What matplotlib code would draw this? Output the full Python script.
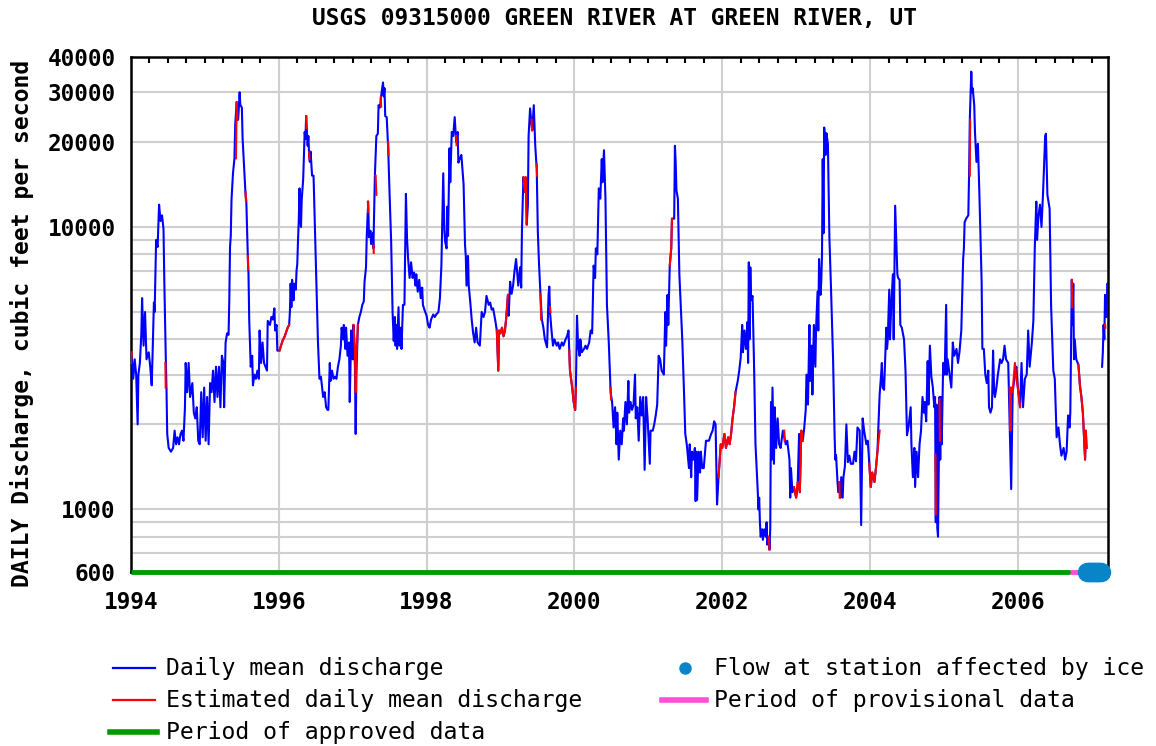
import numpy as np
import matplotlib
matplotlib.use("Agg")
import matplotlib.pyplot as plt
from matplotlib.lines import Line2D
from matplotlib.ticker import FixedLocator, NullFormatter, MultipleLocator

title = "USGS 09315000 GREEN RIVER AT GREEN RIVER, UT"
y_label = "DAILY Discharge, cubic feet per second"

# daily mean discharge (decimal year, cfs)
d1994 = [1994.00, 1994.01, 1994.03, 1994.05, 1994.07, 1994.09, 1994.10, 1994.12, 1994.14, 1994.15,
         1994.17, 1994.19, 1994.21, 1994.24, 1994.26, 1994.28, 1994.29, 1994.31, 1994.32, 1994.34,
         1994.36, 1994.38, 1994.40, 1994.42, 1994.44, 1994.45, 1994.47, 1994.48, 1994.49, 1994.51,
         1994.54, 1994.57, 1994.59, 1994.61, 1994.63, 1994.65, 1994.67, 1994.69, 1994.71, 1994.73,
         1994.74, 1994.76, 1994.78, 1994.80, 1994.83, 1994.85, 1994.87, 1994.89, 1994.91, 1994.93,
         1994.95, 1994.97, 1994.99]
q1994 = [3300, 3500, 2900, 3400, 3000, 2000, 3000, 3300, 4200, 5600,
         3800, 5000, 3400, 3600, 3200, 2750, 3400, 5400, 5000, 9000,
         8500, 12000, 10500, 11000, 9800, 6600, 3500, 2700, 1850, 1650,
         1600, 1650, 1900, 1700, 1800, 1700, 1850, 1900, 1750, 2300,
         3300, 2600, 3300, 2500, 2800, 2200, 2100, 2300, 1750, 1700,
         2600, 1800, 2700]

d1995 = [1995.01, 1995.03, 1995.05, 1995.07, 1995.09, 1995.11, 1995.13, 1995.15, 1995.17, 1995.19,
         1995.21, 1995.23, 1995.25, 1995.26, 1995.28, 1995.30, 1995.32, 1995.33, 1995.34, 1995.35,
         1995.36, 1995.38, 1995.40, 1995.41, 1995.43, 1995.45, 1995.47, 1995.48, 1995.50, 1995.51,
         1995.53, 1995.55, 1995.56, 1995.58, 1995.59, 1995.60, 1995.61, 1995.62, 1995.64, 1995.65,
         1995.67, 1995.69, 1995.71, 1995.73, 1995.74, 1995.76, 1995.78, 1995.80, 1995.82, 1995.84,
         1995.85, 1995.88, 1995.90, 1995.92, 1995.94, 1995.95, 1995.97, 1995.98]
q1995 = [1750, 2500, 1700, 2800, 2600, 3100, 2400, 3200, 2500, 3200,
         2300, 3500, 3300, 2300, 3900, 4200, 4150, 5500, 8500, 9300,
         12500, 15500, 17500, 23000, 27700, 24000, 30000, 27000, 26500, 20600,
         16300, 13000, 12400, 8000, 6800, 4650, 3900, 3200, 3500, 2750,
         3000, 2900, 3100, 2900, 4300, 3300, 3900, 3300, 3200, 3100,
         4650, 4500, 4800, 4700, 5150, 4300, 4500, 3650]

d1996 = [1996.01, 1996.03, 1996.05, 1996.08, 1996.10, 1996.12, 1996.14, 1996.15, 1996.16, 1996.17,
         1996.18, 1996.20, 1996.21, 1996.23, 1996.24, 1996.25, 1996.26, 1996.27, 1996.28, 1996.29,
         1996.30, 1996.31, 1996.33, 1996.34, 1996.35, 1996.36, 1996.37, 1996.38, 1996.39, 1996.40,
         1996.41, 1996.42, 1996.43, 1996.45, 1996.47, 1996.48, 1996.51, 1996.53, 1996.55, 1996.57,
         1996.60, 1996.62, 1996.64, 1996.66, 1996.67, 1996.69, 1996.70, 1996.72, 1996.74, 1996.76,
         1996.78, 1996.80, 1996.82, 1996.84, 1996.85, 1996.87, 1996.88, 1996.90, 1996.91, 1996.93,
         1996.95, 1996.96, 1996.98]
q1996 = [3650, 3800, 3950, 4100, 4250, 4400, 4500, 5000, 6300, 5200,
         6500, 5500, 6300, 6000, 7000, 7400, 9000, 10500, 13700, 11000,
         10000, 12500, 14800, 18000, 21700, 20500, 24700, 22000, 19400, 21000,
         18000, 17000, 18500, 15200, 15200, 12100, 6200, 3900, 2900, 2950,
         2500, 2600, 2300, 2250, 2250, 3300, 2850, 3100, 2900, 2950,
         2900, 3200, 3400, 3800, 4400, 4000, 4500, 3700, 4400, 3500,
         3900, 2400, 4300]

d1997 = [1997.00, 1997.01, 1997.03, 1997.04, 1997.05, 1997.07, 1997.09, 1997.11, 1997.13, 1997.15,
         1997.16, 1997.18, 1997.19, 1997.21, 1997.22, 1997.24, 1997.25, 1997.27, 1997.28, 1997.30,
         1997.32, 1997.34, 1997.35, 1997.37, 1997.38, 1997.41, 1997.42, 1997.43, 1997.44, 1997.46,
         1997.48, 1997.50, 1997.52, 1997.54, 1997.555, 1997.57, 1997.58, 1997.59, 1997.60, 1997.62,
         1997.63, 1997.65, 1997.66, 1997.68, 1997.70, 1997.72, 1997.735, 1997.75, 1997.77, 1997.79,
         1997.81, 1997.83, 1997.85, 1997.86, 1997.88, 1997.90, 1997.92, 1997.94, 1997.95, 1997.97]
q1997 = [3400, 4500, 3200, 1850, 3000, 4500, 4800, 5000, 5300, 5450,
         6400, 7200, 9300, 12300, 9200, 9700, 8700, 9500, 8400, 15200,
         21000, 21400, 27000, 26500, 28500, 32500, 29000, 31000, 24700, 24500,
         19000, 12800, 8900, 4950, 3950, 4800, 3800, 4500, 3700, 5200,
         3800, 4400, 3700, 5300, 5300, 13100, 9100, 7700, 6600, 7500,
         6600, 6900, 6200, 6800, 5900, 6500, 5600, 6100, 5300, 5100]

d1998 = [1998.00, 1998.02, 1998.04, 1998.06, 1998.09, 1998.11, 1998.13, 1998.16, 1998.18, 1998.20,
         1998.225, 1998.24, 1998.25, 1998.27, 1998.28, 1998.29, 1998.31, 1998.32, 1998.34, 1998.36,
         1998.38, 1998.40, 1998.42, 1998.43, 1998.45, 1998.47, 1998.50, 1998.52, 1998.53, 1998.54,
         1998.56, 1998.57, 1998.59, 1998.61, 1998.63, 1998.65, 1998.67, 1998.69, 1998.72, 1998.745,
         1998.77, 1998.79, 1998.81, 1998.84, 1998.86, 1998.88, 1998.90, 1998.93, 1998.95, 1998.97,
         1998.98]
q1998 = [4850, 4500, 4400, 4700, 4900, 4800, 4900, 5000, 5600, 7300,
         15500, 9800, 8900, 8400, 11800, 9300, 19000, 14400, 21700, 21000,
         24500, 20000, 21700, 16900, 17500, 18000, 14200, 8600, 7900, 6200,
         7900, 6200, 5450, 4700, 4200, 3900, 4400, 3900, 3800, 5000,
         4800, 5000, 5700, 5300, 5400, 5100, 5150, 4650, 4300, 3100,
         4300]

d1999 = [1999.00, 1999.02, 1999.04, 1999.06, 1999.08, 1999.10, 1999.11, 1999.13, 1999.15, 1999.17,
         1999.19, 1999.21, 1999.22, 1999.24, 1999.265, 1999.28, 1999.29, 1999.31, 1999.33, 1999.34,
         1999.355, 1999.37, 1999.38, 1999.40, 1999.42, 1999.43, 1999.45, 1999.47, 1999.49, 1999.505,
         1999.52, 1999.54, 1999.56, 1999.58, 1999.60, 1999.63, 1999.65, 1999.66, 1999.67, 1999.69,
         1999.71, 1999.73, 1999.76, 1999.78, 1999.80, 1999.83, 1999.85, 1999.88, 1999.90, 1999.92,
         1999.93, 1999.94, 1999.97, 1999.99]
q1999 = [4200, 4400, 4100, 4300, 4850, 5750, 4850, 6400, 5800, 6200,
         7000, 7700, 7200, 6200, 7200, 6100, 9800, 15000, 13300, 15000,
         10200, 12000, 21000, 26300, 23000, 22000, 27000, 19400, 16000, 9600,
         7500, 5800, 4700, 4400, 4000, 3750, 5750, 6150, 5000, 4300,
         3800, 4000, 3800, 3900, 3700, 3900, 3800, 4000, 4100, 4300,
         3650, 3100, 2700, 2400]

d2000 = [2000.01, 2000.02, 2000.035, 2000.05, 2000.07, 2000.08, 2000.10, 2000.13, 2000.15, 2000.17,
         2000.20, 2000.22, 2000.24, 2000.26, 2000.28, 2000.29, 2000.31, 2000.33, 2000.35, 2000.37,
         2000.38, 2000.40, 2000.42, 2000.44, 2000.465, 2000.49, 2000.51, 2000.53, 2000.55, 2000.57,
         2000.58, 2000.60, 2000.62, 2000.64, 2000.66, 2000.67, 2000.69, 2000.71, 2000.73, 2000.74,
         2000.76, 2000.78, 2000.80, 2000.82, 2000.83, 2000.85, 2000.87, 2000.89, 2000.91, 2000.93,
         2000.95, 2000.97, 2000.99]
q2000 = [2250, 2700, 4850, 3800, 3500, 4000, 3600, 3700, 3800, 3700,
         3900, 4300, 4200, 7300, 6600, 8400, 8000, 13700, 12600, 17400,
         14400, 18700, 12600, 5300, 3900, 2600, 2400, 1950, 2300, 1700,
         2200, 1500, 1900, 1700, 2100, 1900, 2400, 2000, 2850, 2200,
         2400, 2250, 2350, 3000, 2100, 2300, 1750, 2500, 2150, 2500,
         1380, 2500, 2100]

d2001 = [2001.02, 2001.03, 2001.06, 2001.08, 2001.10, 2001.12, 2001.14, 2001.16, 2001.18, 2001.21,
         2001.23, 2001.24, 2001.26, 2001.27, 2001.29, 2001.31, 2001.32, 2001.35, 2001.36, 2001.37,
         2001.38, 2001.40, 2001.42, 2001.46, 2001.48, 2001.50, 2001.52, 2001.55, 2001.56, 2001.58,
         2001.59, 2001.61, 2001.63, 2001.64, 2001.65, 2001.66, 2001.68, 2001.70, 2001.71, 2001.73,
         2001.75, 2001.78, 2001.80, 2001.82, 2001.85, 2001.87, 2001.89, 2001.91, 2001.93, 2001.95,
         2001.98]
q2001 = [1450, 1900, 1900, 2000, 2150, 2350, 3500, 3400, 3100, 3000,
         5000, 3800, 5750, 4500, 7300, 8400, 10700, 10700, 19400, 17000,
         13500, 12600, 6800, 3950, 2750, 1850, 1700, 1400, 1700, 1300,
         1600, 1500, 1650, 1070, 1600, 1080, 1600, 1350, 1600, 1400,
         1400, 1750, 1750, 1750, 1850, 1900, 2050, 2000, 1040, 1300,
         1700]

d2002 = [2002.00, 2002.03, 2002.05, 2002.08, 2002.10, 2002.12, 2002.14, 2002.16, 2002.18, 2002.21,
         2002.23, 2002.25, 2002.27, 2002.28, 2002.30, 2002.32, 2002.34, 2002.35, 2002.36, 2002.37,
         2002.38, 2002.39, 2002.41, 2002.43, 2002.45, 2002.48, 2002.49, 2002.50, 2002.51, 2002.52,
         2002.54, 2002.55, 2002.57, 2002.59, 2002.60, 2002.61, 2002.63, 2002.64, 2002.65, 2002.66,
         2002.67, 2002.68, 2002.70, 2002.71, 2002.73, 2002.75, 2002.77, 2002.79, 2002.82, 2002.84,
         2002.86, 2002.88, 2002.91, 2002.92, 2002.93, 2002.95, 2002.97]
q2002 = [1650, 1850, 1650, 1800, 1700, 1850, 2100, 2300, 2600, 2850,
         3100, 3450, 4500, 3600, 4300, 3700, 4600, 3300, 7500, 4000,
         7200, 5500, 5700, 3300, 1700, 1170, 1000, 1100, 900, 800,
         850, 780, 850, 800, 900, 750, 800, 720, 860, 2400,
         1500, 2700, 1450, 2300, 1650, 2100, 1700, 1650, 1900, 1800,
         1700, 1750, 1500, 1100, 1400, 1150, 1200]

d2003 = [2003.00, 2003.02, 2003.04, 2003.05, 2003.07, 2003.09, 2003.11, 2003.13, 2003.14, 2003.16,
         2003.18, 2003.19, 2003.21, 2003.22, 2003.24, 2003.26, 2003.27, 2003.29, 2003.30, 2003.31,
         2003.33, 2003.34, 2003.35, 2003.36, 2003.37, 2003.38, 2003.40, 2003.41, 2003.43, 2003.45,
         2003.47, 2003.50, 2003.52, 2003.53, 2003.54, 2003.56, 2003.57, 2003.59, 2003.60, 2003.61,
         2003.63, 2003.64, 2003.66, 2003.68, 2003.70, 2003.72, 2003.74, 2003.77, 2003.79, 2003.81,
         2003.83, 2003.86, 2003.88, 2003.90, 2003.92, 2003.95, 2003.97, 2003.99]
q2003 = [1100, 1200, 1850, 1150, 1900, 1750, 1950, 2250, 3000, 2350,
         4500, 2850, 3800, 2550, 4500, 3200, 4400, 5900, 4300, 7700,
         5750, 6400, 8000, 17400, 9500, 22500, 18000, 21500, 19700, 9200,
         6300, 3400, 1850, 1500, 1560, 1250, 1150, 1250, 1100, 1300,
         1100, 1300, 1420, 2000, 1470, 1550, 1450, 1450, 1600, 1480,
         1950, 1900, 880, 2100, 1900, 1700, 1750, 1450]

d2004 = [2004.01, 2004.03, 2004.06, 2004.08, 2004.10, 2004.13, 2004.15, 2004.16, 2004.17, 2004.19,
         2004.22, 2004.23, 2004.24, 2004.26, 2004.27, 2004.29, 2004.31, 2004.32, 2004.33, 2004.34,
         2004.36, 2004.37, 2004.38, 2004.40, 2004.41, 2004.43, 2004.46, 2004.48, 2004.50, 2004.52,
         2004.55, 2004.56, 2004.58, 2004.60, 2004.61, 2004.63, 2004.65, 2004.67, 2004.69, 2004.71,
         2004.73, 2004.74, 2004.76, 2004.78, 2004.79, 2004.81, 2004.83, 2004.85, 2004.87, 2004.88,
         2004.89, 2004.90, 2004.91, 2004.92, 2004.94, 2004.95, 2004.96, 2004.97, 2004.99]
q2004 = [1200, 1350, 1250, 1400, 1600, 2550, 3000, 3300, 2700, 2650,
         4400, 3700, 4000, 6000, 4000, 5500, 6800, 4000, 6800, 11900,
         8200, 6800, 6600, 6500, 4500, 4400, 4000, 3100, 1830, 1950,
         2300, 1700, 1300, 1650, 1200, 1600, 1300, 1700, 1900, 2500,
         2200, 2400, 2050, 3350, 2350, 3800, 2950, 2700, 2300, 2500,
         900, 2350, 860, 800, 2500, 1500, 2500, 1700, 3300]

d2005 = [2005.01, 2005.03, 2005.04, 2005.05, 2005.07, 2005.10, 2005.11, 2005.12, 2005.14, 2005.17,
         2005.19, 2005.21, 2005.235, 2005.26, 2005.27, 2005.28, 2005.30, 2005.33, 2005.34, 2005.35,
         2005.37, 2005.38, 2005.39, 2005.41, 2005.42, 2005.44, 2005.46, 2005.48, 2005.51, 2005.52,
         2005.54, 2005.56, 2005.58, 2005.60, 2005.61, 2005.63, 2005.65, 2005.665, 2005.68, 2005.69,
         2005.71, 2005.73, 2005.76, 2005.78, 2005.80, 2005.82, 2005.84, 2005.87, 2005.89, 2005.91,
         2005.93, 2005.96, 2005.98]
q2005 = [3000, 5300, 3000, 3400, 3100, 2700, 3200, 3900, 3500, 3700,
         3300, 3600, 4300, 7700, 8400, 10400, 10700, 11000, 15200, 24000,
         35500, 30000, 31000, 27000, 21700, 17000, 19700, 13000, 6400, 3700,
         3700, 3000, 2800, 3100, 2300, 2200, 2300, 3650, 2600, 2500,
         2700, 3000, 3400, 3300, 3400, 3800, 3400, 3300, 2000, 1180,
         2600, 3000, 3200]

# None = no record (ice), breaks the line
d2006 = [2006.00, 2006.03, 2006.05, 2006.07, 2006.095, 2006.12, 2006.14, 2006.16, 2006.19, 2006.21,
         2006.23, 2006.25, 2006.26, 2006.28, 2006.30, 2006.32, 2006.34, 2006.37, 2006.38, 2006.40,
         2006.43, 2006.45, 2006.48, 2006.50, 2006.525, 2006.55, 2006.57, 2006.59, 2006.62, 2006.64,
         2006.66, 2006.68, 2006.70, 2006.71, 2006.73, 2006.74, 2006.75, 2006.76, 2006.77, 2006.79,
         2006.82, 2006.84, 2006.86, 2006.88, 2006.91, 2006.92, 2006.93, 2006.94]
q2006 = [2700, 2300, 3300, 2300, 2900, 3000, 4300, 3200, 3900, 4650,
         8600, 12300, 9000, 11000, 12000, 10000, 13000, 21000, 21400, 13000,
         11600, 5250, 3100, 2900, 1800, 1950, 1700, 1550, 1650, 1500,
         1600, 2150, 1950, 2200, 6500, 4500, 6300, 3400, 4000, 3400,
         3250, 2750, 2500, 2200, 1500, 1900, 1650, None]

d2007 = [2007.14, 2007.15, 2007.16, 2007.17, 2007.18, 2007.20, 2007.21, 2007.23]
q2007 = [3200, 3600, 4500, 4000, 5750, 4800, 6300, 6200]

# estimated daily mean discharge (red pieces)
est_t = [[1994.00, 1994.01], [1994.465, 1994.47], [1995.42, 1995.43, 1995.44],
         [1995.55, 1995.555], [1995.58, 1995.585],
         [1996.01, 1996.03, 1996.05, 1996.08, 1996.10, 1996.12, 1996.14],
         [1996.37, 1996.375], [1996.41, 1996.415],
         [1997.01, 1997.03, 1997.04, 1997.05, 1997.07],
         [1997.205, 1997.21], [1997.28, 1997.285], [1997.31, 1997.32],
         [1997.38, 1997.385], [1997.48, 1997.485], [1998.40, 1998.405],
         [1998.95, 1998.97, 1998.98, 1999.00, 1999.02, 1999.04, 1999.06, 1999.08, 1999.10],
         [1999.31, 1999.33, 1999.34, 1999.355], [1999.42, 1999.425],
         [1999.49, 1999.495], [1999.54, 1999.55], [1999.67, 1999.675],
         [1999.93, 1999.94, 1999.97, 1999.99, 2000.01, 2000.02],
         [2000.49, 2000.495], [2001.29, 2001.31, 2001.32],
         [2001.95, 2001.98, 2002.00, 2002.03, 2002.05, 2002.08, 2002.10, 2002.12, 2002.14, 2002.16, 2002.18],
         [2002.63, 2002.64], [2002.84, 2002.845],
         [2002.97, 2003.00, 2003.02, 2003.05, 2003.07, 2003.09],
         [2003.585, 2003.59],
         [2003.99, 2004.01, 2004.03, 2004.06, 2004.08, 2004.10, 2004.13],
         [2004.885, 2004.89], [2004.94, 2004.945], [2005.35, 2005.355],
         [2005.89, 2005.90, 2005.91, 2005.93, 2005.96, 2005.98, 2006.00, 2006.03],
         [2006.73, 2006.735],
         [2006.82, 2006.84, 2006.86, 2006.88, 2006.91, 2006.92, 2006.93],
         [2007.18, 2007.185]]
est_q = [[3300, 3600], [3300, 2700], [17500, 27700, 24000],
         [13300, 12400], [7900, 7100],
         [3650, 3800, 3950, 4100, 4250, 4400, 4500],
         [24700, 22400], [18400, 17400],
         [4500, 3700, 2600, 3500, 4500],
         [12300, 11300], [8600, 8100], [15200, 13000],
         [28800, 26700], [20000, 18000], [21000, 19500],
         [4300, 3100, 4300, 4200, 4400, 4100, 4300, 4850, 5750],
         [15000, 13300, 15000, 10200], [24000, 22000],
         [16700, 15200], [5800, 4700], [5200, 5000],
         [3650, 3100, 2700, 2400, 2250, 2700],
         [2700, 2450], [7300, 8400, 10700],
         [1300, 1700, 1650, 1850, 1650, 1800, 1700, 1850, 2100, 2300, 2600],
         [800, 720], [1900, 1750],
         [1200, 1100, 1250, 1150, 1900, 1750],
         [1250, 1100],
         [1450, 1200, 1350, 1250, 1400, 1600, 1900],
         [1560, 960], [2450, 1750], [15200, 24000],
         [2700, 1900, 2700, 2600, 3300, 2900, 2700, 2300],
         [6500, 5200],
         [3250, 2750, 2500, 2200, 1500, 1900, 1650],
         [4500, 4400]]

ice_dates = [2006.94, 2006.96, 2006.98, 2007.00, 2007.02, 2007.04, 2007.06, 2007.08, 2007.10, 2007.12]
approved = [1994.0, 2006.71]
provisional = [2006.71, 2007.22]

ytick_vals = [600, 1000, 10000, 20000, 30000, 40000]
ygrid_vals = [600, 700, 800, 900, 1000, 2000, 3000, 4000, 5000, 6000, 7000, 8000, 9000,
              10000, 20000, 30000, 40000]
xtick_vals = [1994, 1996, 1998, 2000, 2002, 2004, 2006]

dates = np.array(d1994 + d1995 + d1996 + d1997 + d1998 + d1999 + d2000 + d2001 + d2002
                 + d2003 + d2004 + d2005 + d2006 + d2007, dtype=float)
flow = np.array(q1994 + q1995 + q1996 + q1997 + q1998 + q1999 + q2000 + q2001 + q2002
                + q2003 + q2004 + q2005 + q2006 + q2007, dtype=float)

plt.rcParams["font.family"] = "DejaVu Sans Mono"
plt.rcParams["font.weight"] = "bold"

blue = "#0000ff"
red = "#ff0000"
green = "#009a00"
pink = "#ff4fd8"
ice = "#0a84c8"

fig = plt.figure(figsize=(11.56, 7.46), dpi=100)
ax = fig.add_axes([131 / 1156, 1 - 572 / 746, 977 / 1156, 515 / 746])

ax.plot(dates, flow, color=blue, linewidth=1.5, zorder=3)
for t, q in zip(est_t, est_q):
    ax.plot(t, q, color=red, linewidth=1.5, zorder=4)

ax.plot(approved, [600, 600], color=green, linewidth=3.5, solid_capstyle="butt", clip_on=False, zorder=6)
ax.plot(provisional, [600, 600], color=pink, linewidth=3.5, solid_capstyle="butt", clip_on=False, zorder=6)
ax.plot(ice_dates, [600] * len(ice_dates), linestyle="none", marker="o", markersize=13,
        color=ice, clip_on=False, zorder=7)

ax.set_yscale("log")
ax.set_xlim(1994, 2007.22)
ax.set_ylim(600, 40000)
ax.set_yticks(ytick_vals, labels=[str(v) for v in ytick_vals])
ax.yaxis.set_minor_locator(FixedLocator(ygrid_vals))
ax.yaxis.set_minor_formatter(NullFormatter())
ax.set_xticks(xtick_vals, labels=[str(v) for v in xtick_vals])
ax.xaxis.set_minor_locator(MultipleLocator(0.25))

ax.grid(which="both", axis="y", color="#cfcfcf", linewidth=1.5)
ax.grid(which="major", axis="x", color="#cfcfcf", linewidth=1.5)
ax.set_axisbelow(True)

ax.tick_params(axis="y", which="both", length=0, labelsize=16.3, pad=11)
ax.tick_params(axis="x", which="major", length=0, labelsize=16.3, pad=14)
ax.tick_params(axis="x", which="minor", top=True, bottom=False, direction="in", length=4, width=1.5)
for s in ax.spines.values():
    s.set_linewidth(1.8)
    s.set_color("black")

fig.text(615 / 1156, 1 - 18 / 746, title, ha="center", va="center", fontsize=16.4, fontweight="bold")
fig.text(22 / 1156, 1 - 323 / 746, y_label, rotation=90, ha="center", va="center",
         fontsize=16.6, fontweight="bold")

# legend, drawn by hand in two columns
def fx(px):
    return px / 1156

def fy(py):
    return 1 - py / 746

leg_font = dict(fontsize=16.7, fontweight="normal", va="center", ha="left")
rows = [668, 700, 732]
fig.add_artist(Line2D([fx(113), fx(155)], [fy(rows[0])] * 2, color=blue, linewidth=1.6))
fig.text(fx(166), fy(rows[0]), "Daily mean discharge", **leg_font)
fig.add_artist(Line2D([fx(113), fx(155)], [fy(rows[1])] * 2, color=red, linewidth=1.6))
fig.text(fx(166), fy(rows[1]), "Estimated daily mean discharge", **leg_font)
fig.add_artist(Line2D([fx(110), fx(157)], [fy(rows[2])] * 2, color=green, linewidth=4))
fig.text(fx(166), fy(rows[2]), "Period of approved data", **leg_font)
fig.add_artist(Line2D([fx(685)], [fy(rows[0])], linestyle="none", marker="o", markersize=8, color=ice))
fig.text(fx(714), fy(rows[0]), "Flow at station affected by ice", **leg_font)
fig.add_artist(Line2D([fx(662), fx(706)], [fy(rows[1])] * 2, color=pink, linewidth=4))
fig.text(fx(714), fy(rows[1]), "Period of provisional data", **leg_font)

fig.savefig("out.png", dpi=100)
